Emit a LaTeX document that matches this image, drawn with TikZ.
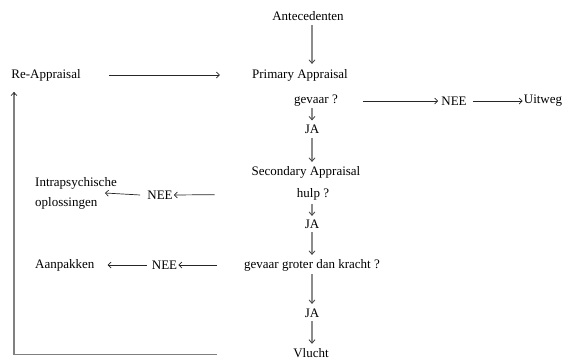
\documentclass[tikz,border=0pt]{standalone}
\usepackage{fontspec}
\setmainfont{Liberation Serif}
\usetikzlibrary{arrows.meta,calc}
\begin{document}
\begin{tikzpicture}[x=1pt,y=-1pt,
  lbl/.style={inner sep=0pt, font=\fontsize{13}{20}\selectfont, anchor=center},
  varrow/.style={draw=black!45, line width=1.5pt, -{Straight Barb[length=3.5pt,width=6pt,line width=0.8pt,color=black!75]}},
  harrow/.style={draw=black!85, line width=0.7pt, -{Straight Barb[length=3pt,width=6pt]}},
  backline/.style={draw=black!50, line width=1.4pt},
]
\useasboundingbox (0,0) rectangle (563,360);
\coordinate (lx) at (14,0);
% labels
\node[lbl] (ant) at (308,16) {Antecedenten};
\node[lbl] (re) at (46,75) {Re-Appraisal};
\node[lbl] (pa) at (300,75) {Primary Appraisal};
\node[lbl] (gev) at (316,101) {gevaar ?};
\node[lbl] (nee1) at (454,101) {NEE};
\node[lbl] (uit) at (543,101) {Uitweg};
\node[lbl] (ja1) at (312,129) {JA};
\node[lbl] (sa) at (306,172) {Secondary Appraisal};
\node[lbl] (hulp) at (313,194) {hulp ?};
\node[lbl, anchor=west, align=left] (intra) at (35,193) {Intrapsychische\\oplossingen};
\node[lbl] (nee2) at (160,195) {NEE};
\node[lbl] (ja2) at (312,224) {JA};
\node[lbl] (ggk) at (312,265) {gevaar groter dan kracht ?};
\node[lbl, anchor=west] (aan) at (35,265) {Aanpakken};
\node[lbl] (nee3) at (164.5,265) {NEE};
\node[lbl] (ja3) at (312,313) {JA};
\node[lbl] (vl) at (311,353) {Vlucht};
\coordinate (ax) at (312,0);
% vertical arrows
\draw[varrow, shorten <=4pt, shorten >=5pt] (ant.south -| ax) -- (pa.north -| ax);
\draw[varrow, shorten <=1pt, shorten >=4pt] (gev.south -| ax) -- (ja1.north -| ax);
\draw[varrow, shorten <=4pt, shorten >=4pt] (ja1.south -| ax) -- (sa.north -| ax);
\draw[varrow, shorten <=3.5pt, shorten >=3.5pt] (hulp.south -| ax) -- (ja2.north -| ax);
\draw[varrow, shorten <=3.5pt, shorten >=4pt] (ja2.south -| ax) -- (ggk.north -| ax);
\draw[varrow, shorten <=3pt, shorten >=4.5pt] (ggk.south -| ax) -- (ja3.north -| ax);
\draw[varrow, shorten <=3.5pt, shorten >=4.4pt] (ja3.south -| ax) -- (vl.north -| ax);
% horizontal arrows
\draw[harrow, shorten <=28pt, shorten >=32pt] (re.east) -- (pa.west);
\draw[harrow, shorten <=25pt, shorten >=3pt] (gev.east) -- (nee1.west);
\draw[harrow, shorten <=6pt, shorten >=1pt] (nee1.east) -- (uit.west);
\draw[harrow, shorten <=82pt, shorten >=1pt] (hulp.west) -- (nee2.east);
\draw[harrow] ([xshift=-7pt]nee2.west) -- ([xshift=-12pt]intra.east);
\draw[harrow, shorten <=27pt, shorten >=1pt] (ggk.west) -- (nee3.east);
\draw[harrow, shorten <=5pt, shorten >=13pt] (nee3.west) -- (aan.east);
% back loop
\draw[backline] ([xshift=-76pt,yshift=-1.5pt]vl.west) -| ($(re.south -| lx)+(0,11)$);
\draw[draw=black!80, line width=0.7pt, -{Straight Barb[length=3pt,width=6pt]}] ($(re.south -| lx)+(0,14)$) -- ($(re.south -| lx)+(0,11)$);
\end{tikzpicture}
\end{document}
